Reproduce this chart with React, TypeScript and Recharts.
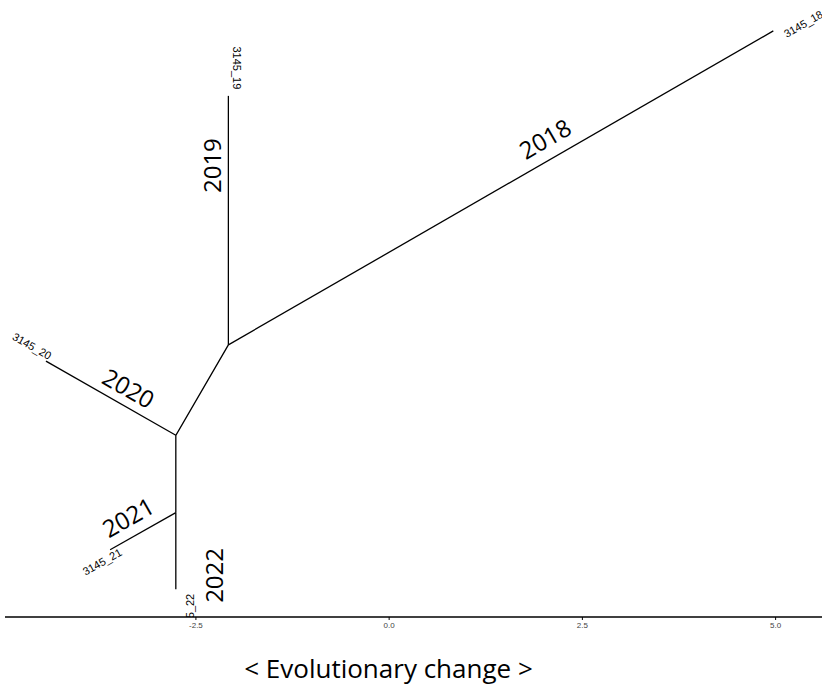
import React from "react";
import { ScatterChart, Scatter, XAxis, YAxis } from "recharts";

// unrooted tree, coordinates in branch-length units
const branchYears = ["2018", "2019", "2020", "2021", "2022"];
const tipNames = ["3145_18", "3145_19", "3145_20", "3145_21", "3145_22"];
const tipX = [4.97, -2.08, -4.44, -3.61, -2.76];
const tipY = [7.58, 6.74, 3.31, 0.87, 0.36];
const parentX = [-2.08, -2.08, -2.76, -2.76, -2.76];
const parentY = [3.52, 3.52, 2.35, 1.35, 1.35];

// internal nodes, joined in order
const innerX = [-2.08, -2.76, -2.76];
const innerY = [3.52, 2.35, 1.35];

const xTicks = [-2.5, 0, 2.5, 5];

// layout
const W = 824;
const H = 687;
const X_DOMAIN = [-4.97, 5.6];
const Y_DOMAIN = [0, 7.98];
const yearAt = [0.6, 0.72, 0.43, 0.58, 0.82];
const yearGap = [21, 17, 18, 20, -38];
const tipDx = [30, 9, -14, -8, 14];
const tipDy = [-7, -28, -15, 12, 26];

const deg = (rad: number) => (rad * 180) / Math.PI;

const edges = tipX.map((tx, i) => [
  { x: parentX[i], y: parentY[i] },
  { x: tx, y: tipY[i] },
]);
const innerPath = innerX.map((x, i) => ({ x, y: innerY[i] }));

const yearLabels = branchYears.map((text, i) => {
  const a = deg(Math.atan2(-(tipY[i] - parentY[i]), tipX[i] - parentX[i]));
  let r = a;
  if (r >= 90) r -= 180;
  if (r < -90) r += 180;
  const t = yearAt[i];
  const rad = (r * Math.PI) / 180;
  return {
    x: parentX[i] + t * (tipX[i] - parentX[i]),
    y: parentY[i] + t * (tipY[i] - parentY[i]),
    text,
    rotate: r,
    dx: yearGap[i] * Math.sin(rad),
    dy: -yearGap[i] * Math.cos(rad),
  };
});

const tipLabels = tipNames.map((text, i) => {
  const a = deg(Math.atan2(-(tipY[i] - parentY[i]), tipX[i] - parentX[i]));
  let r = a;
  if (Math.abs(a) >= 90 - 1e-6) r = a + 180;
  if (r > 180) r -= 360;
  return { x: tipX[i], y: tipY[i], text, rotate: r, dx: tipDx[i], dy: tipDy[i] };
});

const Empty = () => <g />;

const makeLabel = (fontSize: number, fontFamily: string) => (props: any) => {
  const { cx, cy, payload } = props;
  const x = cx + payload.dx;
  const y = cy + payload.dy;
  return (
    <text
      x={x}
      y={y}
      transform={`rotate(${payload.rotate}, ${x}, ${y})`}
      textAnchor="middle"
      dominantBaseline="central"
      fontSize={fontSize}
      fontFamily={fontFamily}
      fill="#000"
    >
      {payload.text}
    </text>
  );
};

const YearLabel = makeLabel(24, "'Open Sans', sans-serif");
const TipLabel = makeLabel(11, "'Liberation Sans', Arial, sans-serif");

export default function App() {
  return (
    <div style={{ position: "absolute", left: 0, top: 0, width: W, height: H, background: "#fff", overflow: "hidden" }}>
      <ScatterChart width={W} height={H} margin={{ top: 0, right: 2, bottom: 0, left: 5 }}>
        <XAxis
          type="number"
          dataKey="x"
          domain={X_DOMAIN}
          allowDataOverflow
          ticks={xTicks}
          tickFormatter={(v: number) => v.toFixed(1)}
          height={70}
          tickSize={3}
          axisLine={{ stroke: "#000", strokeWidth: 1.5 }}
          tickLine={{ stroke: "#000" }}
          tick={{ fontSize: 8, fill: "#444", fontFamily: "'Liberation Sans Narrow', 'Liberation Sans', sans-serif" }}
        />
        <YAxis type="number" dataKey="y" domain={Y_DOMAIN} allowDataOverflow hide />
        {edges.map((d, i) => (
          <Scatter
            key={tipNames[i]}
            data={d}
            line={{ stroke: "#000", strokeWidth: 1.3 }}
            shape={Empty}
            isAnimationActive={false}
          />
        ))}
        <Scatter
          data={innerPath}
          line={{ stroke: "#000", strokeWidth: 1.3 }}
          shape={Empty}
          isAnimationActive={false}
        />
        <Scatter data={yearLabels} shape={YearLabel} isAnimationActive={false} />
        <Scatter data={tipLabels} shape={TipLabel} isAnimationActive={false} />
      </ScatterChart>
      <div
        style={{
          position: "absolute",
          top: 653,
          left: 0,
          width: 777,
          textAlign: "center",
          fontFamily: "'Open Sans', sans-serif",
          fontSize: 26,
          lineHeight: "30px",
          color: "#000",
          whiteSpace: "nowrap",
        }}
      >
        {"< Evolutionary change >"}
      </div>
    </div>
  );
}
